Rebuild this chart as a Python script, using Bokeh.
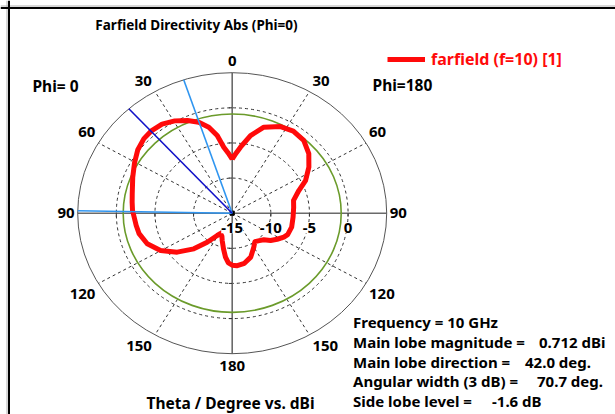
import numpy as np
from bokeh.plotting import figure
from bokeh.models import Range1d, Label, Legend, LegendItem, Span
from bokeh.core.properties import value
from bokeh.embed import file_html
from bokeh.resources import INLINE

# ---------------- data ----------------
# angle measured from the top, counter-clockwise: 0..180 -> Phi=0 side (theta), 180..360 -> Phi=180 side
theta_deg = [0, 3.5, 6.6, 9.95, 13.9, 18.5, 23.7, 29.5, 35.6, 42, 47.1, 53.5, 60.3, 68.4, 78, 83,
             88.3, 92.6, 98, 103.6, 111.6, 119.8, 127.9, 135.6, 141.9, 148.5, 152.5, 158, 161.6,
             167.5, 172.1, 176, 180, 185, 192.5, 201, 210, 216, 222, 227.2, 232, 237.5, 243, 247,
             255.5, 266, 276, 283, 290.5, 296.1, 303.4, 310.5, 318.2, 325.9, 333.1, 341.5, 347.9,
             353.5, 356.5, 360]
directivity_dbi = [-7.3, -6.4, -5.54, -3.77, -2.39, -1.35, -0.6, 0.1, 0.6, 0.712, 0.6, 0.2, -0.45,
                   -1.15, -1.77, -1.95, -2.09, -2.3, -2.45, -2.6, -3.17, -4.31, -5.97, -7.9, -9.75,
                   -11.28, -11.75, -11.45, -10.9, -9.8, -8.68, -7.9, -7.6, -7.5, -7.7, -8.3, -9.41,
                   -10.0, -9.75, -9.42, -8.7, -8.1, -7.5, -7.2, -7.05, -7.1, -7.0, -6.85, -5.79,
                   -4.43, -3.11, -1.96, -1.11, -0.888, -1.17, -2.09, -3.69, -5.55, -6.4, -7.3]

r_min, r_max = -15, 5
ring_levels = [-10, -5, 0]
radial_tick_values = [-15, -10, -5, 0]
radial_tick_labels = ["-15", "-10", "-5", "0"]
angle_ticks = [0, 30, 60, 90, 120, 150, 180, 210, 240, 270, 300, 330]
angle_tick_labels = ["0", "30", "60", "90", "120", "150", "180", "150", "120", "90", "60", "30"]
spoke_angles = [30, 60, 120, 150, 210, 240, 300, 330]
main_lobe_direction = 42.0
main_lobe_magnitude = 0.712
beam_edges = [18.3, 89.0]
side_lobe_level = -1.6
info_names = ["Frequency = 10 GHz", "Main lobe magnitude =", "Main lobe direction =",
              "Angular width (3 dB) =", "Side lobe level ="]
info_values = ["", "0.712 dBi", "42.0 deg.", "70.7 deg.", "-1.6 dB"]

# ---------------- layout ----------------
W, H = 615, 414
cx, cy = 231.7, 212.7          # pole position in pixels
sx, sy = 7.725, 7.025          # pixels per dB (horizontal / vertical)
FNAME = "Noto Sans"
FONT = value(FNAME)
FS_TICK = "15px"
value_x = [0, 538.5, 524.5, 536.5, 491.5]


def pol(angle, db):
    a = np.radians(np.asarray(angle, dtype=float))
    r = np.asarray(db, dtype=float) - r_min
    return -r * np.sin(a), r * np.cos(a)


p = figure(width=W, height=H, output_backend="svg", toolbar_location=None,
           x_range=Range1d(-cx / sx, (W - cx) / sx), y_range=Range1d(-(H - cy) / sy, cy / sy),
           x_axis_location=None, y_axis_location=None, min_border=0)
p.outline_line_color = None
p.grid.visible = False
p.background_fill_color = "white"
p.border_fill_color = "white"

R = r_max - r_min

# window frame
p.add_layout(Span(location=(6.5 - cx) / sx, dimension="height", line_color="#b0b0b0", line_width=1))
p.add_layout(Span(location=(cy - 5.5) / sy, dimension="width", line_color="#b0b0b0", line_width=1))
p.add_layout(Span(location=(8.5 - cx) / sx, dimension="height", line_color="black", line_width=2))
p.add_layout(Span(location=(cy - 7.5) / sy, dimension="width", line_color="black", line_width=2))

# dashed rings and spokes
for lvl in ring_levels:
    p.ellipse(x=0, y=0, width=2 * (lvl - r_min), height=2 * (lvl - r_min), fill_color=None,
              line_color="#333333", line_width=1, line_dash="3 3")
sx1, sy1 = pol(spoke_angles, [r_max] * len(spoke_angles))
p.segment(x0=0, y0=0, x1=sx1, y1=sy1, line_color="#333333", line_width=1, line_dash="3 3")

# axes
p.segment(x0=[-R, 0], y0=[0, -R], x1=[R, 0], y1=[0, R], line_color="#6a6a6a", line_width=1.6)
# outer circle
p.ellipse(x=0, y=0, width=2 * R, height=2 * R, fill_color=None, line_color="#555555", line_width=1)

# ticks on the axes
tv = np.array([lv - r_min for lv in ring_levels], dtype=float)
p.segment(x0=np.concatenate([tv, -tv]), y0=0, x1=np.concatenate([tv, -tv]), y1=-0.5,
          line_color="#333333", line_width=1)
p.segment(x0=0, y0=np.concatenate([tv, -tv]), x1=-0.45, y1=np.concatenate([tv, -tv]),
          line_color="#333333", line_width=1)
p.scatter(x=[0], y=[0], marker="square", size=4, color="black")

# side-lobe reference circle
g = main_lobe_magnitude + side_lobe_level - r_min
p.ellipse(x=0, y=0, width=2 * g, height=2 * g, fill_color=None, line_color="#6b9b2b", line_width=1.6)

# pattern
xs, ys = pol(theta_deg, directivity_dbi)
red = p.line(xs, ys, line_color="#ff0a0a", line_width=5, line_join="round")

# main lobe and 3 dB lines
bx, by = pol(beam_edges, [r_max] * 2)
p.segment(x0=0, y0=0, x1=bx, y1=by, line_color="#2f95f0", line_width=1.6)
mx, my = pol([main_lobe_direction], [r_max])
p.segment(x0=0, y0=0, x1=mx, y1=my, line_color="#1010c8", line_width=1.6)

# radial labels
p.text(x=[v - r_min for v in radial_tick_values], y=0, text=radial_tick_labels, text_align="center",
       text_baseline="middle", y_offset=15, text_font=FONT, text_font_size=FS_TICK,
       text_font_style="bold", text_color="black", background_fill_color="white")

# angle labels
ax, ay = pol(angle_ticks, [r_max] * len(angle_ticks))
aligns, xo, yo = [], [], []
for a in angle_ticks:
    if a in (0, 180):
        aligns.append("center"); xo.append(0); yo.append(-12 if a == 0 else 12)
    else:
        left = a < 180
        aligns.append("right" if left else "left")
        xo.append(-3 if left else 3)
        c = np.cos(np.radians(a))
        yo.append(0 if abs(c) < 1e-6 else (-11 if c > 0 else 11))
p.text(x=ax, y=ay, text=angle_tick_labels, text_align=aligns, x_offset=xo, y_offset=yo,
       text_baseline="middle", text_font=FONT, text_font_size=FS_TICK, text_font_style="bold",
       text_color="black")


def lab(px, py, txt, align="left", color="black", size="15px"):
    p.add_layout(Label(x=px, y=H - py, x_units="screen", y_units="screen", text=txt,
                       text_align=align, text_baseline="middle", text_font=FNAME,
                       text_font_size=size, text_font_style="bold", text_color=color))


lab(196, 24, "Farfield Directivity Abs (Phi=0)", "center", size="13.5px")
lab(55, 85, "Phi= 0", "center", size="15.5px")
lab(372, 84, "Phi=180", size="15.5px")
lab(230, 402, "Theta / Degree vs. dBi", "center", size="15.5px")
for i, (nm, vl) in enumerate(zip(info_names, info_values)):
    lab(352.5, 321.5 + i * 19.8, nm, size="15px")
    if vl:
        lab(value_x[i], 321.5 + i * 19.8, vl, size="15px")

legend = Legend(items=[LegendItem(label="farfield (f=10) [1]", renderers=[red])],
                location=(387, H - 70), glyph_width=38, glyph_height=18, label_height=18,
                label_standoff=6, padding=0, margin=0, border_line_color=None,
                background_fill_alpha=0, label_text_color="#ff0a0a", label_text_font=FNAME,
                label_text_font_size="16px", label_text_font_style="bold")
p.add_layout(legend)

open("out.html", "w").write(file_html(p, INLINE))
